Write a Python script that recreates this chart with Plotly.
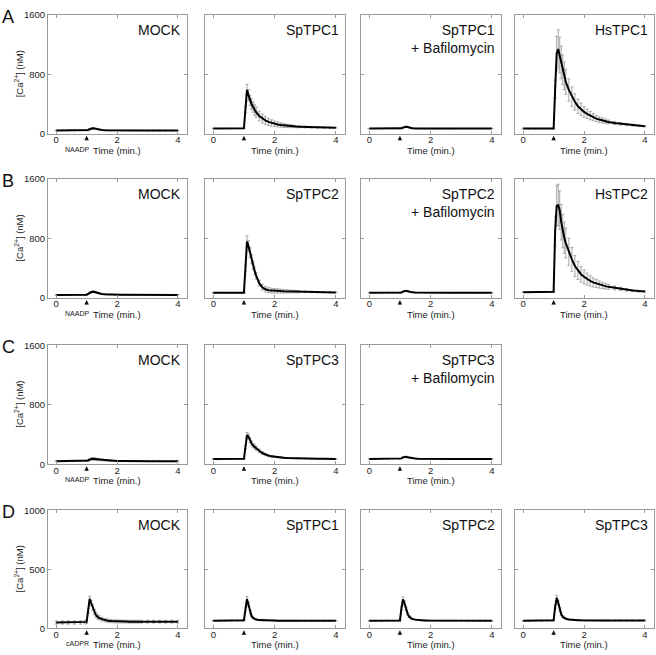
import plotly.graph_objects as go

# time points (min.)
time_min = [0.0, 0.2, 0.4, 0.6, 0.8, 0.95,
            1.0, 1.05, 1.1, 1.15, 1.2, 1.25, 1.3, 1.35, 1.4,
            1.5, 1.6, 1.7, 1.8, 1.9, 2.0,
            2.1, 2.2, 2.3, 2.4, 2.5, 2.6, 2.7, 2.8,
            3.0, 3.2, 3.4, 3.6, 3.8, 4.0]

# row A - NAADP
a_mock = [45, 45, 45, 44, 45, 45, 46, 52, 62, 70, 74, 73, 68, 62, 57, 52, 49, 48, 47, 46, 46,
          46, 45, 45, 45, 45, 45, 45, 44, 44, 44, 44, 44, 44, 44]
a_mock_err = [4, 4, 4, 4, 4, 4, 4, 5, 6, 7, 8, 8, 7, 6, 6, 5, 5, 5, 4, 4, 4,
              4, 4, 4, 4, 4, 4, 4, 4, 4, 4, 4, 4, 4, 4]
a_sptpc1 = [72, 72, 72, 72, 72, 72, 74, 330, 590, 520, 450, 400, 360, 320, 290, 240, 205, 180, 160, 146, 135,
            126, 118, 112, 107, 103, 100, 97, 95, 92, 89, 87, 85, 83, 82]
a_sptpc1_err = [3, 3, 3, 3, 3, 3, 3, 40, 75, 75, 72, 70, 70, 70, 68, 65, 60, 54, 48, 42, 37,
                33, 29, 25, 22, 19, 17, 15, 14, 12, 10, 9, 8, 7, 6]
a_baf1 = [70, 70, 70, 70, 70, 70, 70, 74, 84, 94, 96, 92, 86, 80, 76, 73, 72, 71, 71, 70, 70,
          70, 70, 70, 70, 70, 70, 70, 70, 70, 70, 70, 70, 70, 70]
a_baf1_err = [2, 2, 2, 2, 2, 2, 2, 3, 4, 5, 5, 5, 4, 4, 3, 3, 2, 2, 2, 2, 2,
              2, 2, 2, 2, 2, 2, 2, 2, 2, 2, 2, 2, 2, 2]
a_hstpc1 = [70, 70, 70, 70, 70, 70, 72, 600, 1080, 1140, 1060, 960, 860, 780, 700, 590, 500, 430, 370, 330, 295,
            268, 245, 223, 205, 192, 180, 170, 160, 145, 135, 125, 116, 108, 102]
a_hstpc1_err = [4, 4, 4, 4, 4, 4, 5, 120, 230, 260, 240, 220, 200, 185, 170, 150, 130, 110, 95, 82, 72,
                62, 55, 48, 42, 37, 33, 29, 26, 21, 17, 14, 12, 10, 8]

# row B - NAADP
b_mock = [42, 42, 42, 42, 42, 42, 44, 55, 70, 80, 85, 84, 78, 70, 62, 54, 50, 47, 46, 45, 44,
          44, 43, 43, 43, 43, 43, 43, 42, 42, 42, 42, 42, 42, 42]
b_mock_err = [5, 5, 5, 5, 5, 5, 5, 6, 8, 9, 10, 10, 9, 8, 7, 6, 6, 6, 5, 5, 5,
              5, 5, 5, 5, 5, 5, 5, 5, 5, 5, 5, 5, 5, 5]
b_sptpc2 = [70, 70, 70, 70, 70, 70, 72, 400, 760, 700, 610, 520, 440, 365, 300, 200, 145, 118, 105, 100, 97,
            95, 93, 91, 90, 88, 87, 86, 85, 83, 81, 79, 78, 77, 75]
b_sptpc2_err = [4, 4, 4, 4, 4, 4, 4, 40, 75, 70, 65, 60, 55, 50, 45, 40, 38, 36, 34, 32, 30,
                28, 26, 24, 22, 20, 18, 16, 14, 11, 9, 8, 7, 6, 5]
b_baf2 = [70, 70, 70, 70, 70, 70, 70, 75, 86, 95, 96, 92, 86, 80, 76, 73, 72, 71, 71, 70, 70,
          70, 70, 70, 70, 70, 70, 70, 70, 70, 70, 70, 70, 70, 70]
b_baf2_err = [2, 2, 2, 2, 2, 2, 2, 3, 4, 5, 5, 5, 4, 4, 3, 3, 2, 2, 2, 2, 2,
              2, 2, 2, 2, 2, 2, 2, 2, 2, 2, 2, 2, 2, 2]
b_hstpc2 = [78, 78, 78, 78, 78, 80, 85, 900, 1240, 1250, 1180, 1020, 900, 810, 740, 620, 520, 430, 370, 320, 285,
            255, 230, 210, 195, 182, 170, 160, 150, 135, 122, 110, 100, 93, 88]
b_hstpc2_err = [4, 4, 4, 4, 4, 4, 6, 200, 270, 280, 260, 240, 225, 210, 200, 180, 160, 140, 120, 105, 92,
                80, 70, 62, 55, 48, 42, 38, 34, 27, 21, 17, 14, 12, 10]

# row C - NAADP
c_mock = [40, 40, 40, 40, 40, 40, 42, 50, 62, 70, 72, 70, 68, 64, 60, 55, 50, 47, 45, 44, 43,
          43, 42, 42, 42, 41, 41, 41, 41, 40, 40, 40, 40, 40, 40]
c_mock_err = [4, 4, 4, 4, 4, 4, 4, 8, 12, 14, 15, 15, 14, 13, 12, 10, 9, 8, 7, 6, 5,
              5, 5, 5, 5, 5, 5, 5, 5, 5, 5, 5, 5, 5, 5]
c_sptpc3 = [70, 70, 70, 70, 70, 70, 72, 230, 390, 370, 320, 280, 250, 230, 215, 180, 150, 130, 115, 105, 98,
            93, 89, 86, 84, 82, 80, 79, 78, 76, 74, 73, 72, 71, 71]
c_sptpc3_err = [3, 3, 3, 3, 3, 3, 3, 20, 35, 35, 32, 30, 28, 27, 26, 24, 20, 16, 13, 11, 9,
                8, 7, 6, 6, 5, 5, 5, 5, 4, 4, 4, 4, 4, 4]
c_baf3 = [70, 70, 70, 70, 70, 70, 70, 78, 92, 100, 98, 93, 88, 83, 79, 75, 73, 72, 71, 71, 70,
          70, 70, 70, 70, 70, 70, 70, 70, 70, 70, 70, 70, 70, 70]
c_baf3_err = [2, 2, 2, 2, 2, 2, 2, 3, 4, 5, 5, 5, 4, 4, 3, 3, 2, 2, 2, 2, 2,
              2, 2, 2, 2, 2, 2, 2, 2, 2, 2, 2, 2, 2, 2]

# row D - cADPR
d_mock = [50, 50, 50, 50, 50, 52, 55, 150, 250, 215, 175, 140, 115, 100, 90, 78, 70, 65, 62, 60, 59,
          58, 58, 58, 57, 57, 57, 57, 57, 57, 57, 57, 57, 57, 57]
d_mock_err = [14, 14, 14, 14, 14, 14, 14, 20, 22, 22, 22, 22, 20, 20, 18, 16, 15, 14, 14, 13, 13,
              12, 12, 12, 12, 12, 12, 12, 12, 12, 12, 12, 12, 12, 12]
d_sptpc1 = [65, 65, 65, 65, 65, 65, 68, 160, 248, 200, 140, 105, 88, 80, 75, 70, 68, 67, 66, 66, 66,
            65, 65, 65, 65, 65, 65, 65, 65, 65, 65, 65, 65, 65, 65]
d_sptpc1_err = [3, 3, 3, 3, 3, 3, 4, 15, 22, 18, 12, 8, 6, 5, 4, 4, 4, 3, 3, 3, 3,
                3, 3, 3, 3, 3, 3, 3, 3, 3, 3, 3, 3, 3, 3]
d_sptpc2 = [64, 64, 64, 64, 64, 64, 66, 170, 245, 215, 165, 125, 100, 88, 80, 74, 70, 68, 67, 66, 66,
            65, 65, 65, 65, 65, 65, 65, 65, 65, 65, 65, 65, 65, 65]
d_sptpc2_err = [3, 3, 3, 3, 3, 3, 4, 15, 20, 18, 14, 10, 8, 6, 5, 4, 4, 3, 3, 3, 3,
                3, 3, 3, 3, 3, 3, 3, 3, 3, 3, 3, 3, 3, 3]
d_sptpc3 = [65, 65, 65, 65, 65, 65, 68, 180, 258, 220, 160, 120, 98, 88, 82, 76, 72, 70, 69, 68, 67,
            66, 66, 66, 66, 66, 66, 66, 66, 66, 66, 66, 66, 66, 66]
d_sptpc3_err = [3, 3, 3, 3, 3, 3, 4, 15, 20, 18, 14, 10, 8, 6, 5, 4, 4, 3, 3, 3, 3,
                3, 3, 3, 3, 3, 3, 3, 3, 3, 3, 3, 3, 3, 3]

row_letters = ["A", "B", "C", "D"]
row_stimulus = ["NAADP", "NAADP", "NAADP", "cADPR"]
row_ymax = [1600, 1600, 1600, 1000]
row_yticks = [[0, 800, 1600], [0, 800, 1600], [0, 800, 1600], [0, 500, 1000]]
x_ticks = [0, 2, 4]

# (row, col, mean, error, label)
panels = [
    (0, 0, a_mock, a_mock_err, "MOCK"),
    (0, 1, a_sptpc1, a_sptpc1_err, "SpTPC1"),
    (0, 2, a_baf1, a_baf1_err, "SpTPC1<br>+ Bafilomycin"),
    (0, 3, a_hstpc1, a_hstpc1_err, "HsTPC1"),
    (1, 0, b_mock, b_mock_err, "MOCK"),
    (1, 1, b_sptpc2, b_sptpc2_err, "SpTPC2"),
    (1, 2, b_baf2, b_baf2_err, "SpTPC2<br>+ Bafilomycin"),
    (1, 3, b_hstpc2, b_hstpc2_err, "HsTPC2"),
    (2, 0, c_mock, c_mock_err, "MOCK"),
    (2, 1, c_sptpc3, c_sptpc3_err, "SpTPC3"),
    (2, 2, c_baf3, c_baf3_err, "SpTPC3<br>+ Bafilomycin"),
    (3, 0, d_mock, d_mock_err, "MOCK"),
    (3, 1, d_sptpc1, d_sptpc1_err, "SpTPC1"),
    (3, 2, d_sptpc2, d_sptpc2_err, "SpTPC2"),
    (3, 3, d_sptpc3, d_sptpc3_err, "SpTPC3"),
]

# page geometry in pixels
W, H = 656, 655
col_px = [(48, 187), (205, 345), (361, 501), (515, 654)]
row_px = [(9, 130), (176, 297), (345, 466), (513, 633)]

FONT = "Liberation Sans, Arial, sans-serif"
FRAME = "#9a9a9a"
TEXT = "#222222"

fig = go.Figure()
layout = {}
annotations = []

for k, (r, c, mean, err, label) in enumerate(panels, start=1):
    xa = "x" if k == 1 else f"x{k}"
    ya = "y" if k == 1 else f"y{k}"
    xkey = "xaxis" if k == 1 else f"xaxis{k}"
    ykey = "yaxis" if k == 1 else f"yaxis{k}"

    # grey error bars under the mean trace
    fig.add_trace(go.Scatter(
        x=time_min, y=mean, mode="markers", xaxis=xa, yaxis=ya,
        marker=dict(size=1, color="rgba(0,0,0,0)"),
        error_y=dict(type="data", array=err, color="#a6a6a6", thickness=1, width=1.5),
        hoverinfo="skip", showlegend=False))
    fig.add_trace(go.Scatter(
        x=time_min, y=mean, mode="lines", xaxis=xa, yaxis=ya,
        line=dict(color="black", width=2), showlegend=False))

    x0, x1 = col_px[c]
    y0, y1 = row_px[r]
    axis_common = dict(showline=True, linecolor=FRAME, linewidth=1, mirror="ticks",
                       ticks="inside", ticklen=3, tickcolor=FRAME, tickwidth=1,
                       showgrid=False, zeroline=False,
                       tickfont=dict(family=FONT, size=9.5, color=TEXT))
    layout[xkey] = dict(axis_common, domain=[x0 / W, x1 / W], anchor=ya,
                        range=[-0.27, 4.3], tickvals=x_ticks, ticklabelstandoff=-3)
    layout[ykey] = dict(axis_common, domain=[1 - y1 / H, 1 - y0 / H], anchor=xa,
                        range=[0, row_ymax[r]], tickvals=row_yticks[r],
                        showticklabels=(c == 0))

    # panel label, top right
    annotations.append(dict(text=label, xref=f"{xa} domain", yref=f"{ya} domain",
                            x=1, y=1, xanchor="right", yanchor="top", align="right",
                            xshift=-4, yshift=-5, showarrow=False,
                            font=dict(family=FONT, size=14, color="#111")))
    # x axis title
    annotations.append(dict(text="Time (min.)", xref=xa, yref=f"{ya} domain",
                            x=2, y=0, xanchor="center", yanchor="top", yshift=-9,
                            showarrow=False, font=dict(family=FONT, size=9.5, color=TEXT)))
    # injection arrow at 1 min
    annotations.append(dict(text="", xref=xa, yref=f"{ya} domain", x=1, y=0,
                            showarrow=True, arrowhead=2, arrowsize=0.9, arrowwidth=1,
                            arrowcolor="#111", ax=0, ay=6, yshift=-2, standoff=0))

    if c == 0:
        annotations.append(dict(text=row_stimulus[r], xref=xa, yref=f"{ya} domain",
                                x=1, y=0, xanchor="right", yanchor="top", xshift=4, yshift=-10,
                                showarrow=False, font=dict(family=FONT, size=7, color=TEXT)))
        annotations.append(dict(text="[Ca<sup>2+</sup>] (nM)", xref="paper",
                                yref=f"{ya} domain", x=19 / W, y=0.5, textangle=-90,
                                xanchor="center", yanchor="middle", showarrow=False,
                                font=dict(family=FONT, size=9.5, color=TEXT)))
        annotations.append(dict(text=row_letters[r], xref="paper", yref="paper",
                                x=0, y=1 - (y0 + 2) / H, xanchor="left", yanchor="middle",
                                showarrow=False, font=dict(family=FONT, size=18, color="#111")))

fig.update_layout(**layout)
fig.update_layout(width=W, height=H, margin=dict(l=0, r=0, t=0, b=0),
                  paper_bgcolor="white", plot_bgcolor="white",
                  annotations=annotations, showlegend=False)

fig.write_html("out.html", config={"displayModeBar": False},
               post_script="document.body.style.margin='0';document.body.style.overflow='hidden';")
